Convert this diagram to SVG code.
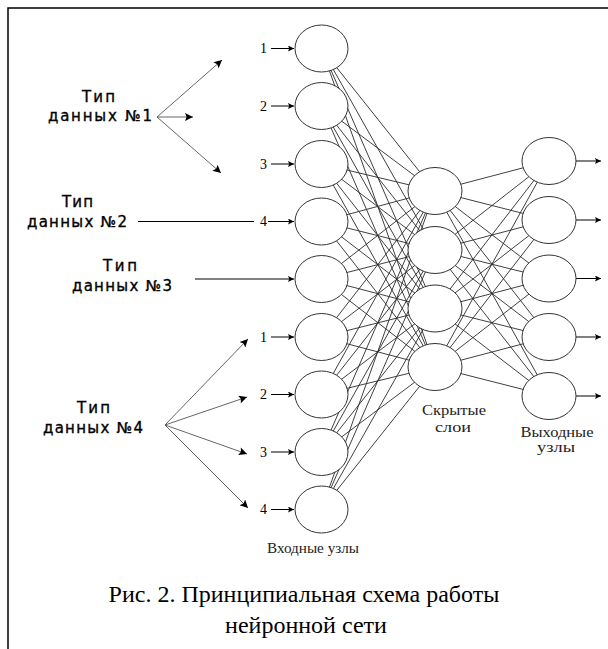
<svg xmlns="http://www.w3.org/2000/svg" width="608" height="649" viewBox="0 0 608 649">
<style>
.node ellipse{fill:#fff;stroke:#333;stroke-width:1}
.cn line{stroke:#2a2a2a;stroke-width:0.9}
.fan line{stroke:#555;stroke-width:0.9}
.arr line{stroke:#000;stroke-width:1}
.t{font-family:"DejaVu Sans",sans-serif;font-size:15px;fill:#000;stroke:#000;stroke-width:0.35}
.n{font-family:"Liberation Serif",serif;font-size:14px;fill:#000;text-anchor:end}
.cl{font-family:"Liberation Serif",serif;font-size:15px;fill:#222;text-anchor:middle}
.cap{font-family:"Liberation Serif",serif;font-size:24px;fill:#000;text-anchor:middle}
</style>
<defs>
<marker id="ah" viewBox="0 0 10 10" refX="10" refY="5" markerWidth="10" markerHeight="8" markerUnits="userSpaceOnUse" orient="auto"><path d="M0,0 L10,5 L0,10 L2,5 z" fill="#000"/></marker>
<marker id="ahs" viewBox="0 0 10 10" refX="10" refY="5" markerWidth="8" markerHeight="6" markerUnits="userSpaceOnUse" orient="auto"><path d="M0,0 L10,5 L0,10 L2,5 z" fill="#000"/></marker>
</defs>
<path d="M8,649 V8 H608" fill="none" stroke="#000" stroke-width="1.5"/>
<g id="connectors">
<g class="cn">
<line x1="321.5" y1="48.5" x2="435" y2="191"/><line x1="321.5" y1="48.5" x2="435" y2="250"/><line x1="321.5" y1="48.5" x2="435" y2="308.5"/><line x1="321.5" y1="48.5" x2="435" y2="367"/>
<line x1="321.5" y1="106" x2="435" y2="191"/><line x1="321.5" y1="106" x2="435" y2="250"/><line x1="321.5" y1="106" x2="435" y2="308.5"/><line x1="321.5" y1="106" x2="435" y2="367"/>
<line x1="321.5" y1="164" x2="435" y2="191"/><line x1="321.5" y1="164" x2="435" y2="250"/><line x1="321.5" y1="164" x2="435" y2="308.5"/><line x1="321.5" y1="164" x2="435" y2="367"/>
<line x1="321.5" y1="221.5" x2="435" y2="191"/><line x1="321.5" y1="221.5" x2="435" y2="250"/><line x1="321.5" y1="221.5" x2="435" y2="308.5"/><line x1="321.5" y1="221.5" x2="435" y2="367"/>
<line x1="321.5" y1="279" x2="435" y2="191"/><line x1="321.5" y1="279" x2="435" y2="250"/><line x1="321.5" y1="279" x2="435" y2="308.5"/><line x1="321.5" y1="279" x2="435" y2="367"/>
<line x1="321.5" y1="337" x2="435" y2="191"/><line x1="321.5" y1="337" x2="435" y2="250"/><line x1="321.5" y1="337" x2="435" y2="308.5"/><line x1="321.5" y1="337" x2="435" y2="367"/>
<line x1="321.5" y1="394.5" x2="435" y2="191"/><line x1="321.5" y1="394.5" x2="435" y2="250"/><line x1="321.5" y1="394.5" x2="435" y2="308.5"/><line x1="321.5" y1="394.5" x2="435" y2="367"/>
<line x1="321.5" y1="452" x2="435" y2="191"/><line x1="321.5" y1="452" x2="435" y2="250"/><line x1="321.5" y1="452" x2="435" y2="308.5"/><line x1="321.5" y1="452" x2="435" y2="367"/>
<line x1="321.5" y1="509.5" x2="435" y2="191"/><line x1="321.5" y1="509.5" x2="435" y2="250"/><line x1="321.5" y1="509.5" x2="435" y2="308.5"/><line x1="321.5" y1="509.5" x2="435" y2="367"/>
<line x1="435" y1="191" x2="549" y2="161"/><line x1="435" y1="191" x2="549" y2="220"/><line x1="435" y1="191" x2="549" y2="278.5"/><line x1="435" y1="191" x2="549" y2="337"/><line x1="435" y1="191" x2="549" y2="396"/>
<line x1="435" y1="250" x2="549" y2="161"/><line x1="435" y1="250" x2="549" y2="220"/><line x1="435" y1="250" x2="549" y2="278.5"/><line x1="435" y1="250" x2="549" y2="337"/><line x1="435" y1="250" x2="549" y2="396"/>
<line x1="435" y1="308.5" x2="549" y2="161"/><line x1="435" y1="308.5" x2="549" y2="220"/><line x1="435" y1="308.5" x2="549" y2="278.5"/><line x1="435" y1="308.5" x2="549" y2="337"/><line x1="435" y1="308.5" x2="549" y2="396"/>
<line x1="435" y1="367" x2="549" y2="161"/><line x1="435" y1="367" x2="549" y2="220"/><line x1="435" y1="367" x2="549" y2="278.5"/><line x1="435" y1="367" x2="549" y2="337"/><line x1="435" y1="367" x2="549" y2="396"/>
</g>
<g class="fan">
<line x1="157" y1="117" x2="222" y2="60" marker-end="url(#ah)"/>
<line x1="157" y1="117" x2="193" y2="117" marker-end="url(#ah)"/>
<line x1="157" y1="117" x2="221" y2="173" marker-end="url(#ah)"/>
<line x1="165" y1="425" x2="248" y2="339" marker-end="url(#ah)"/>
<line x1="165" y1="425" x2="247" y2="397" marker-end="url(#ah)"/>
<line x1="165" y1="425" x2="247" y2="454" marker-end="url(#ah)"/>
<line x1="165" y1="425" x2="248" y2="508" marker-end="url(#ah)"/>
</g>
<g class="arr">
<line x1="271" y1="48.5" x2="294" y2="48.5" marker-end="url(#ahs)"/>
<line x1="271" y1="106" x2="294" y2="106" marker-end="url(#ahs)"/>
<line x1="271" y1="164" x2="294" y2="164" marker-end="url(#ahs)"/>
<line x1="138" y1="221.5" x2="254" y2="221.5"/>
<line x1="268" y1="221.5" x2="294" y2="221.5" marker-end="url(#ahs)"/>
<line x1="195" y1="279" x2="294" y2="279" marker-end="url(#ahs)"/>
<line x1="271" y1="337" x2="294" y2="337" marker-end="url(#ahs)"/>
<line x1="271" y1="394.5" x2="294" y2="394.5" marker-end="url(#ahs)"/>
<line x1="271" y1="452" x2="294" y2="452" marker-end="url(#ahs)"/>
<line x1="271" y1="509.5" x2="294" y2="509.5" marker-end="url(#ahs)"/>
<line x1="576" y1="161" x2="601" y2="161" marker-end="url(#ahs)"/>
<line x1="576" y1="220" x2="601" y2="220" marker-end="url(#ahs)"/>
<line x1="576" y1="278.5" x2="601" y2="278.5" marker-end="url(#ahs)"/>
<line x1="576" y1="337" x2="601" y2="337" marker-end="url(#ahs)"/>
<line x1="576" y1="396" x2="601" y2="396" marker-end="url(#ahs)"/>
</g>
</g>
<g id="input-nodes" class="node">
<g id="in1"><ellipse cx="321.5" cy="48.5" rx="26.5" ry="23.5"/></g>
<g id="in2"><ellipse cx="321.5" cy="106" rx="26.5" ry="23.5"/></g>
<g id="in3"><ellipse cx="321.5" cy="164" rx="26.5" ry="23.5"/></g>
<g id="in4"><ellipse cx="321.5" cy="221.5" rx="26.5" ry="23.5"/></g>
<g id="in5"><ellipse cx="321.5" cy="279" rx="26.5" ry="23.5"/></g>
<g id="in6"><ellipse cx="321.5" cy="337" rx="26.5" ry="23.5"/></g>
<g id="in7"><ellipse cx="321.5" cy="394.5" rx="26.5" ry="23.5"/></g>
<g id="in8"><ellipse cx="321.5" cy="452" rx="26.5" ry="23.5"/></g>
<g id="in9"><ellipse cx="321.5" cy="509.5" rx="26.5" ry="23.5"/></g>
</g>
<g id="hidden-nodes" class="node">
<g id="h1"><ellipse cx="435" cy="191" rx="27" ry="23.5"/></g>
<g id="h2"><ellipse cx="435" cy="250" rx="27" ry="23.5"/></g>
<g id="h3"><ellipse cx="435" cy="308.5" rx="27" ry="23.5"/></g>
<g id="h4"><ellipse cx="435" cy="367" rx="27" ry="23.5"/></g>
</g>
<g id="output-nodes" class="node">
<g id="o1"><ellipse cx="549" cy="161" rx="27" ry="23.5"/></g>
<g id="o2"><ellipse cx="549" cy="220" rx="27" ry="23.5"/></g>
<g id="o3"><ellipse cx="549" cy="278.5" rx="27" ry="23.5"/></g>
<g id="o4"><ellipse cx="549" cy="337" rx="27" ry="23.5"/></g>
<g id="o5"><ellipse cx="549" cy="396" rx="27" ry="23.5"/></g>
</g>
<g id="input-numbers" class="n">
<text x="267" y="53">1</text>
<text x="267" y="110.5">2</text>
<text x="267" y="168.5">3</text>
<text x="267" y="226">4</text>
<text x="267" y="341.5">1</text>
<text x="267" y="399">2</text>
<text x="267" y="456.5">3</text>
<text x="267" y="514">4</text>
</g>
<g id="type1" class="t"><text x="82" y="102" textLength="33" lengthAdjust="spacing">Тип</text><text x="48" y="121" textLength="104" lengthAdjust="spacing">данных №1</text></g>
<g id="type2" class="t"><text x="62" y="207" textLength="31" lengthAdjust="spacing">Тип</text><text x="27" y="227" textLength="100" lengthAdjust="spacing">данных №2</text></g>
<g id="type3" class="t"><text x="103" y="271" textLength="34" lengthAdjust="spacing">Тип</text><text x="72" y="291" textLength="100" lengthAdjust="spacing">данных №3</text></g>
<g id="type4" class="t"><text x="77" y="413" textLength="33" lengthAdjust="spacing">Тип</text><text x="43" y="433" textLength="100" lengthAdjust="spacing">данных №4</text></g>
<g id="column-labels" class="cl">
<text x="313" y="553" textLength="92" lengthAdjust="spacingAndGlyphs">Входные узлы</text>
<text x="454" y="415" textLength="64" lengthAdjust="spacingAndGlyphs">Скрытые</text>
<text x="453" y="432" textLength="36" lengthAdjust="spacingAndGlyphs">слои</text>
<text x="557" y="437" textLength="73" lengthAdjust="spacingAndGlyphs">Выходные</text>
<text x="556" y="452" textLength="38" lengthAdjust="spacingAndGlyphs">узлы</text>
</g>
<g id="caption" class="cap">
<text x="304" y="602">Рис. 2. Принципиальная схема работы</text>
<text x="306" y="633">нейронной сети</text>
</g>
</svg>
